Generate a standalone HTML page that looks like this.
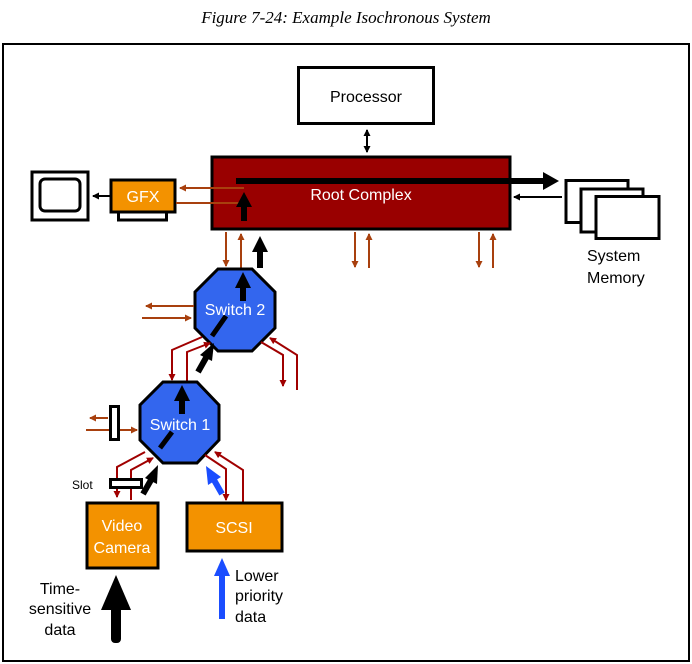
<!DOCTYPE html>
<html><head><meta charset="utf-8"><style>
html,body{margin:0;padding:0;background:#fff;}
svg{display:block;}
text{font-family:"Liberation Sans",Arial,sans-serif;}
</style></head><body>
<svg width="692" height="664" viewBox="0 0 692 664" xmlns="http://www.w3.org/2000/svg">
<defs>
<marker id="br" markerWidth="8" markerHeight="8" refX="6" refY="4" orient="auto" markerUnits="userSpaceOnUse"><path d="M0,0.5 L7,4 L0,7.5 Z" fill="#a8400e"/></marker>
<marker id="rd" markerWidth="8" markerHeight="8" refX="6" refY="4" orient="auto" markerUnits="userSpaceOnUse"><path d="M0,0.5 L7,4 L0,7.5 Z" fill="#a00000"/></marker>
<marker id="bk" markerWidth="8" markerHeight="8" refX="6" refY="4" orient="auto" markerUnits="userSpaceOnUse"><path d="M0,0.5 L7,4 L0,7.5 Z" fill="#000"/></marker>
<marker id="bks" markerWidth="8" markerHeight="8" refX="1" refY="4" orient="auto" markerUnits="userSpaceOnUse"><path d="M7,0.5 L0,4 L7,7.5 Z" fill="#000"/></marker>
</defs>
<text x="346" y="23" text-anchor="middle" style="font-family:'Liberation Serif',serif;font-style:italic;font-size:17px">Figure 7-24: Example Isochronous System</text>
<rect x="3" y="44" width="686" height="617" fill="none" stroke="#000" stroke-width="2"/>

<rect x="298.5" y="67.5" width="135" height="56" fill="#fff" stroke="#000" stroke-width="3"/>
<text x="366" y="102" text-anchor="middle" font-size="16">Processor</text>
<line x1="367" y1="130" x2="367" y2="152" stroke="#000" stroke-width="2" marker-end="url(#bk)" marker-start="url(#bks)"/>

<rect x="212" y="157" width="298" height="72" fill="#990000" stroke="#000" stroke-width="3"/>
<text x="361" y="200" text-anchor="middle" font-size="16" fill="#fff">Root Complex</text>
<line x1="236" y1="181" x2="545" y2="181" stroke="#000" stroke-width="6"/>
<path d="M543,172 L559,181 L543,190 Z" fill="#000"/>
<line x1="514" y1="197" x2="562" y2="197" stroke="#000" stroke-width="2" marker-start="url(#bks)"/>

<rect x="566" y="180.5" width="62" height="42" fill="#fff" stroke="#000" stroke-width="3"/>
<rect x="581" y="189" width="62" height="43" fill="#fff" stroke="#000" stroke-width="3"/>
<rect x="596" y="196.5" width="63" height="42" fill="#fff" stroke="#000" stroke-width="3"/>
<text x="587" y="261" font-size="16">System</text>
<text x="587" y="283" font-size="16">Memory</text>

<line x1="355" y1="232" x2="355" y2="267" stroke="#a8400e" stroke-width="2" marker-end="url(#br)"/>
<line x1="369" y1="268" x2="369" y2="234" stroke="#a8400e" stroke-width="2" marker-end="url(#br)"/>
<line x1="479" y1="232" x2="479" y2="267" stroke="#a8400e" stroke-width="2" marker-end="url(#br)"/>
<line x1="493" y1="268" x2="493" y2="234" stroke="#a8400e" stroke-width="2" marker-end="url(#br)"/>

<rect x="32" y="172" width="56" height="48" fill="#fff" stroke="#000" stroke-width="3"/>
<rect x="40" y="179" width="40" height="32" rx="5" fill="#fff" stroke="#000" stroke-width="3"/>
<rect x="118.5" y="210" width="48" height="10" fill="#fff" stroke="#000" stroke-width="3"/>
<rect x="111" y="180" width="64" height="32" fill="#f39200" stroke="#000" stroke-width="3"/>
<text x="143" y="202" text-anchor="middle" font-size="16" fill="#fff">GFX</text>
<line x1="110" y1="196" x2="93" y2="196" stroke="#000" stroke-width="2" marker-end="url(#bk)"/>
<line x1="244" y1="188" x2="180" y2="188" stroke="#a8400e" stroke-width="2" marker-end="url(#br)"/>
<line x1="176" y1="203" x2="240" y2="203" stroke="#a8400e" stroke-width="2"/>
<rect x="241" y="205" width="6" height="16" fill="#000"/>
<path d="M236,207 L244,192 L252,207 Z" fill="#000"/>

<line x1="226" y1="232" x2="226" y2="266" stroke="#a8400e" stroke-width="2" marker-end="url(#br)"/>
<line x1="241" y1="268" x2="241" y2="234" stroke="#a8400e" stroke-width="2" marker-end="url(#br)"/>
<rect x="257" y="250" width="6" height="18" fill="#000"/>
<path d="M252,252 L260,236 L268,252 Z" fill="#000"/>

<polygon points="218,269 252,269 275,292 275,328 252,351 218,351 195,328 195,292" fill="#3366ee" stroke="#000" stroke-width="3"/>
<rect x="240" y="285" width="6" height="16" fill="#000"/>
<path d="M235,288 L243,272 L251,288 Z" fill="#000"/>
<line x1="212" y1="336" x2="226" y2="316" stroke="#000" stroke-width="5"/>
<text x="235" y="315" text-anchor="middle" font-size="16" fill="#fff">Switch 2</text>
<line x1="194" y1="306" x2="146" y2="306" stroke="#a8400e" stroke-width="2" marker-end="url(#br)"/>
<line x1="142" y1="318" x2="191" y2="318" stroke="#a8400e" stroke-width="2" marker-end="url(#br)"/>
<polyline points="202,337 172,350 172,380" fill="none" stroke="#a00000" stroke-width="2" marker-end="url(#rd)"/>
<polyline points="187,383 187,352 210,343" fill="none" stroke="#a00000" stroke-width="2" marker-end="url(#rd)"/>
<line x1="198" y1="372" x2="207" y2="356" stroke="#000" stroke-width="6"/>
<path d="M200,355 L214,343 L212,361 Z" fill="#000"/>
<polyline points="261,342 283,355 283,386" fill="none" stroke="#a00000" stroke-width="2" marker-end="url(#rd)"/>
<polyline points="297,390 297,355 270,338" fill="none" stroke="#a00000" stroke-width="2" marker-end="url(#rd)"/>

<polygon points="163,382 197,382 219,405 219,440 197,463 163,463 140,440 140,405" fill="#3366ee" stroke="#000" stroke-width="3"/>
<rect x="179" y="398" width="6" height="16" fill="#000"/>
<path d="M174,401 L182,385 L190,401 Z" fill="#000"/>
<line x1="160" y1="448" x2="172" y2="432" stroke="#000" stroke-width="5"/>
<text x="180" y="430" text-anchor="middle" font-size="16" fill="#fff">Switch 1</text>
<line x1="108" y1="418" x2="90" y2="418" stroke="#a8400e" stroke-width="2" marker-end="url(#br)"/>
<line x1="86" y1="430" x2="137" y2="430" stroke="#a8400e" stroke-width="2" marker-end="url(#br)"/>
<rect x="110.5" y="406.5" width="8" height="33" fill="#fff" stroke="#000" stroke-width="3"/>

<polyline points="145,452 117,467 117,497" fill="none" stroke="#a00000" stroke-width="2" marker-end="url(#rd)"/>
<polyline points="131,500 131,470 153,458" fill="none" stroke="#a00000" stroke-width="2" marker-end="url(#rd)"/>
<rect x="110.5" y="479.5" width="31" height="8" fill="#fff" stroke="#000" stroke-width="3"/>
<text x="72" y="489" font-size="12">Slot</text>
<line x1="143" y1="494" x2="151" y2="480" stroke="#000" stroke-width="6"/>
<path d="M145,478 L158,465 L157,484 Z" fill="#000"/>

<line x1="222" y1="494" x2="214" y2="480" stroke="#1a4dff" stroke-width="6"/>
<path d="M208,485 L206,466 L221,477 Z" fill="#1a4dff"/>
<polyline points="205,455 226,469 226,500" fill="none" stroke="#a00000" stroke-width="2" marker-end="url(#rd)"/>
<polyline points="243,502 243,470 215,452" fill="none" stroke="#a00000" stroke-width="2" marker-end="url(#rd)"/>

<rect x="87" y="503" width="71" height="65" fill="#f39200" stroke="#000" stroke-width="3"/>
<text x="122" y="531" text-anchor="middle" font-size="16" fill="#fff">Video</text>
<text x="122" y="553" text-anchor="middle" font-size="16" fill="#fff">Camera</text>
<rect x="187" y="503" width="95" height="48" fill="#f39200" stroke="#000" stroke-width="3"/>
<text x="234" y="533" text-anchor="middle" font-size="16" fill="#fff">SCSI</text>

<rect x="111" y="605" width="10" height="38" rx="4" fill="#000"/>
<path d="M101,610 L116,575 L131,610 Z" fill="#000"/>
<text x="60" y="594" text-anchor="middle" font-size="16">Time-</text>
<text x="60" y="614" text-anchor="middle" font-size="16">sensitive</text>
<text x="60" y="635" text-anchor="middle" font-size="16">data</text>
<rect x="219" y="574" width="6" height="45" fill="#1a4dff"/>
<path d="M214,576 L222,558 L230,576 Z" fill="#1a4dff"/>
<text x="235" y="581" font-size="16">Lower</text>
<text x="235" y="601" font-size="16">priority</text>
<text x="235" y="622" font-size="16">data</text>
</svg>
</body></html>
